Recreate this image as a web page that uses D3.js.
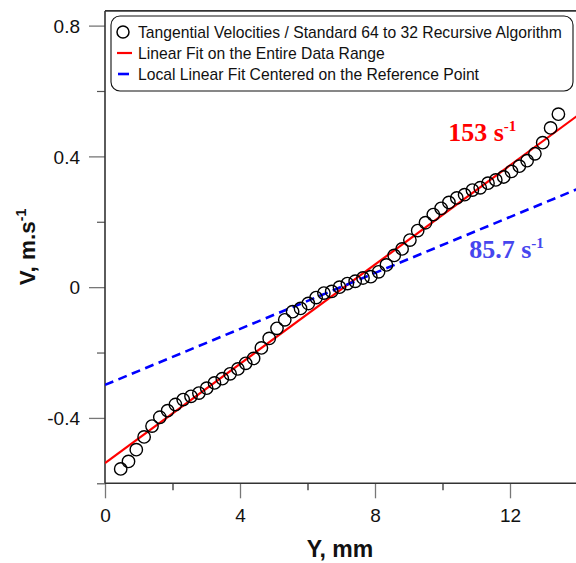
<!DOCTYPE html>
<html>
<head>
<meta charset="utf-8">
<script src="https://cdn.jsdelivr.net/npm/d3@7"></script>
<style>
html,body{margin:0;padding:0;background:#fff;}
svg{display:block;}
</style>
</head>
<body>
<svg id="chart" width="576" height="563"></svg>
<script>
// ---- data ----
const yPos = [0.465,0.696,0.927,1.159,1.393,1.624,1.855,2.086,2.317,2.548,2.782,3.013,3.244,3.476,3.707,3.938,4.169,4.403,4.634,4.865,5.096,5.327,5.559,5.793,6.024,6.255,6.486,6.717,6.948,7.182,7.413,7.644,7.876,8.107,8.338,8.569,8.803,9.034,9.265,9.496,9.727,9.959,10.190,10.424,10.655,10.886,11.117,11.348,11.579,11.813,12.044,12.276,12.507,12.738,12.969,13.203,13.434];
const velocity = [-0.556,-0.533,-0.497,-0.458,-0.425,-0.398,-0.378,-0.359,-0.344,-0.334,-0.324,-0.309,-0.293,-0.280,-0.265,-0.250,-0.233,-0.218,-0.186,-0.157,-0.126,-0.100,-0.075,-0.065,-0.050,-0.032,-0.018,-0.013,0.000,0.011,0.018,0.028,0.032,0.047,0.068,0.097,0.117,0.144,0.173,0.197,0.222,0.241,0.259,0.273,0.283,0.297,0.304,0.318,0.328,0.337,0.354,0.370,0.387,0.408,0.442,0.487,0.529];
const fitNames = ["Linear Fit on the Entire Data Range","Local Linear Fit Centered on the Reference Point"];
const fitIntercepts = [-0.538, -0.299];
const fitSlopes = [0.0759, 0.0428];
const fitLabels = ["153", "85.7"];
const fitLabelPos = [[10.17, 0.447], [10.79, 0.088]];
const seriesName = "Tangential Velocities / Standard 64 to 32 Recursive Algorithm";
const xMajorTicks = [0,4,8,12];
const xMinorTicks = [2,6,10];
const yMajorTicks = [-0.4,0,0.4,0.8];
const yMinorTicks = [-0.6,-0.2,0.2,0.6];
const yTickLabels = ["-0.4","0","0.4","0.8"];

// ---- layout ----
const svg = d3.select("#chart");
const x = d3.scaleLinear().domain([0,14]).range([105,577.5]);
const y = d3.scaleLinear().domain([-0.6,0.845]).range([483.3,10.9]);
const fitColors = ["#ff0000","#0000ff"];
const labelColors = ["#ff0000","#4646ee"];
const sans = "Arial, 'Liberation Sans', sans-serif";
const serif = "'Times New Roman', 'Liberation Serif', serif";

// clip
svg.append("clipPath").attr("id","clip").append("rect")
  .attr("x",x(0)).attr("y",y(0.845)).attr("width",x(14)-x(0)).attr("height",y(-0.6)-y(0.845));

// axes (custom ticks via d3 axis)
const xAxis = d3.axisBottom(x).tickValues(xMajorTicks).tickSize(15).tickFormat(d3.format("d"));
const gx = svg.append("g").attr("transform",`translate(0,${y(-0.6)})`).call(xAxis);
gx.select(".domain").remove();
gx.selectAll(".tick line").attr("stroke","#777").attr("stroke-width",1.3);
gx.selectAll(".tick text").attr("font-family",sans).attr("font-size",19).attr("fill","#111").attr("dy","0.95em").attr("y",21);
const xMinor = d3.axisBottom(x).tickValues(xMinorTicks).tickSize(7).tickFormat("");
const gxm = svg.append("g").attr("transform",`translate(0,${y(-0.6)})`).call(xMinor);
gxm.select(".domain").remove();
gxm.selectAll(".tick line").attr("stroke","#222").attr("stroke-width",1.2);

const yAxis = d3.axisLeft(y).tickValues(yMajorTicks).tickSize(16).tickFormat((d,i)=>yTickLabels[i]);
const gy = svg.append("g").attr("transform",`translate(${x(0)},0)`).call(yAxis);
gy.select(".domain").remove();
gy.selectAll(".tick line").attr("stroke","#777").attr("stroke-width",1.3);
gy.selectAll(".tick text").attr("font-family",sans).attr("font-size",19).attr("fill","#111").attr("x",-25).attr("dy","0.36em");
const yMinor = d3.axisLeft(y).tickValues(yMinorTicks).tickSize(8).tickFormat("");
const gym = svg.append("g").attr("transform",`translate(${x(0)},0)`).call(yMinor);
gym.select(".domain").remove();
gym.selectAll(".tick line").attr("stroke","#555").attr("stroke-width",1.2);

// frame lines
svg.append("line").attr("x1",x(0)).attr("x2",x(14)).attr("y1",y(-0.6)).attr("y2",y(-0.6)).attr("stroke","#333").attr("stroke-width",1.6);
svg.append("line").attr("x1",x(0)).attr("x2",x(0)).attr("y1",y(-0.6)).attr("y2",y(0.845)).attr("stroke","#333").attr("stroke-width",1.6);
svg.append("line").attr("x1",x(0)).attr("x2",x(14)).attr("y1",y(0.845)).attr("y2",y(0.845)).attr("stroke","#333").attr("stroke-width",1.6);

// plot area
const plot = svg.append("g").attr("clip-path","url(#clip)");

// fits
fitNames.forEach((n,i)=>{
  const line = d3.line().x(d=>x(d)).y(d=>y(fitIntercepts[i]+fitSlopes[i]*d));
  plot.append("path").datum([0,14]).attr("d",line).attr("fill","none")
    .attr("stroke",fitColors[i]).attr("stroke-width",i===0?2.2:2.6)
    .attr("stroke-dasharray",i===1?"9,5.5":null);
});

// points
plot.selectAll("circle.pt").data(yPos).join("circle").attr("class","pt")
  .attr("cx",d=>x(d)).attr("cy",(d,i)=>y(velocity[i])).attr("r",6.2)
  .attr("fill","none").attr("stroke","#000").attr("stroke-width",1.4);

// fit labels
fitLabels.forEach((t,i)=>{
  const tx = svg.append("text").attr("x",x(fitLabelPos[i][0])).attr("y",y(fitLabelPos[i][1]))
    .attr("font-family",serif).attr("font-weight","bold").attr("font-size",26).attr("fill",labelColors[i]);
  tx.append("tspan").text(t+" s");
  tx.append("tspan").attr("font-size",15).attr("dy",-10).text("-1");
});

// axis titles
svg.append("text").attr("x",340).attr("y",557).attr("text-anchor","middle")
  .attr("font-family",sans).attr("font-weight","bold").attr("font-size",23).attr("fill","#111").text("Y, mm");
const yt = svg.append("text").attr("transform",`translate(35,${247}) rotate(-90)`).attr("text-anchor","middle")
  .attr("font-family",sans).attr("font-weight","bold").attr("font-size",22.5).attr("fill","#111");
yt.append("tspan").text("V, m.s");
yt.append("tspan").attr("font-size",14).attr("dy",-9).text("-1");

// legend
const lg = svg.append("g");
lg.append("rect").attr("x",111).attr("y",16).attr("width",462).attr("height",75).attr("rx",9).attr("ry",9)
  .attr("fill","#fff").attr("stroke","#111").attr("stroke-width",1.1);
lg.append("circle").attr("cx",123).attr("cy",32).attr("r",6).attr("fill","none").attr("stroke","#000").attr("stroke-width",1.5);
lg.append("line").attr("x1",117).attr("x2",132).attr("y1",53).attr("y2",53).attr("stroke",fitColors[0]).attr("stroke-width",2.2);
lg.append("line").attr("x1",118).attr("x2",129).attr("y1",74).attr("y2",74).attr("stroke",fitColors[1]).attr("stroke-width",2.6);
const legTexts = [seriesName].concat(fitNames);
[32,53,74].forEach((cy,i)=>{
  lg.append("text").attr("x",138).attr("y",cy).attr("dy","0.36em")
    .attr("font-family",sans).attr("font-size",15.7).attr("fill","#111").text(legTexts[i]);
});
</script>
</body>
</html>
